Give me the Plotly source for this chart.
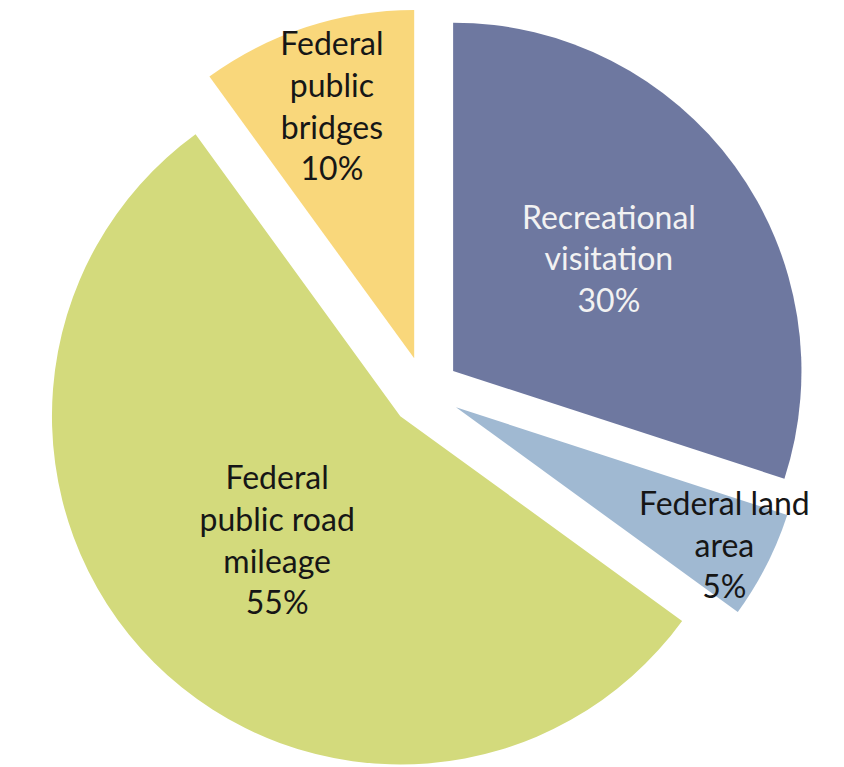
import plotly.graph_objects as go

categories = ["Recreational visitation", "Federal land area",
              "Federal public road mileage", "Federal public bridges"]
wrapped_labels = ["Recreational<br>visitation", "Federal land<br>area",
                  "Federal<br>public road<br>mileage", "Federal<br>public<br>bridges"]
shares = [30, 5, 55, 10]

colors = ["#6E78A0", "#A0B9D2", "#D3DA7C", "#F9D77B"]
text_colors = ["#F2F2F2", "#161616", "#161616", "#161616"]

fig = go.Figure(go.Pie(
    labels=categories,
    values=shares,
    text=wrapped_labels,
    texttemplate="%{text}<br>%{percent:.0%}",
    textposition="inside",
    insidetextorientation="horizontal",
    sort=False,
    direction="clockwise",
    rotation=0,
    pull=0.1,
    marker=dict(colors=colors, line=dict(width=0)),
    textfont=dict(family="Lato", size=32, color=text_colors),
    hoverinfo="label+percent",
    showlegend=False,
    domain=dict(x=[0.04, 0.948], y=[0, 1]),
))

fig.update_layout(
    width=844, height=767,
    margin=dict(l=0, r=0, t=0, b=0),
    paper_bgcolor="white",
    plot_bgcolor="white",
    uniformtext=dict(minsize=32, mode="show"),
)

fig.write_html("out.html")
